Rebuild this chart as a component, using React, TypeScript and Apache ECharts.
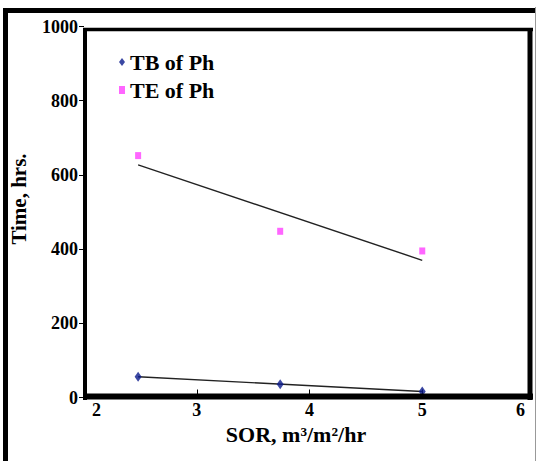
import React, { useEffect, useRef } from 'react';
import * as echarts from 'echarts';

// SOR values (m3/m2/hr) shared by both series
const sor = [2.48, 3.74, 5.0];
const tbOfPh = [56, 36, 16];
const teOfPh = [652, 448, 395];

const seriesNames = ['TB of Ph', 'TE of Ph'];
const xTickMarks = [3, 4, 5];

const FONT = '"Liberation Serif", "Times New Roman", serif';

// least squares line over the x range of the data (like an Excel trendline)
const trend = (xs: number[], ys: number[]) => {
  const n = xs.length;
  const mx = xs.reduce((a, b) => a + b, 0) / n;
  const my = ys.reduce((a, b) => a + b, 0) / n;
  let sxy = 0;
  let sxx = 0;
  xs.forEach((x, i) => {
    sxy += (x - mx) * (ys[i] - my);
    sxx += (x - mx) * (x - mx);
  });
  const slope = sxy / sxx;
  const x0 = Math.min(...xs);
  const x1 = Math.max(...xs);
  return [
    [x0, my + slope * (x0 - mx)],
    [x1, my + slope * (x1 - mx)],
  ];
};

const App = () => {
  const chartRef = useRef<HTMLDivElement>(null);

  useEffect(() => {
    const chart = echarts.init(chartRef.current, null, { renderer: 'svg' });

    const labelStyle = { fontFamily: FONT, fontWeight: 'bold', fontSize: 18, color: '#000' };

    const options = {
      animation: false,
      backgroundColor: '#fff',
      grid: { left: 83, right: 2, top: 26.5, bottom: 63.5 },
      legend: {
        data: [
          { name: seriesNames[0], icon: 'diamond' },
          { name: seriesNames[1], icon: 'rect' },
        ],
        orient: 'vertical',
        left: 119,
        top: 51,
        padding: 0,
        itemWidth: 6,
        itemHeight: 8,
        itemGap: 6,
        textStyle: { fontFamily: FONT, fontWeight: 'bold', fontSize: 22, color: '#000', lineHeight: 22 },
      },
      xAxis: {
        type: 'value',
        min: 2,
        max: 6,
        interval: 1,
        name: 'SOR, m³/m²/hr',
        nameLocation: 'middle',
        nameGap: 25,
        nameTextStyle: { ...labelStyle, fontSize: 22, padding: [0, 27, 0, 0] },
        axisLine: { show: false },
        axisTick: { show: true, inside: true, length: 8, customValues: xTickMarks, lineStyle: { color: '#000', width: 1 } },
        axisLabel: {
          ...labelStyle,
          margin: 3,
          alignMinLabel: 'left',
          alignMaxLabel: 'right',
          formatter: (v: number) => (v === 2 ? '{l|2}' : v === 6 ? '{r|6}' : String(v)),
          rich: {
            l: { ...labelStyle, padding: [0, 0, 0, 8] },
            r: { ...labelStyle, padding: [0, 10, 0, 0] },
          },
        },
        splitLine: { show: false },
      },
      yAxis: {
        type: 'value',
        min: 0,
        max: 1000,
        interval: 200,
        name: 'Time, hrs.',
        nameLocation: 'middle',
        nameGap: 55,
        nameTextStyle: { ...labelStyle, fontSize: 21, padding: [0, 0, 0, 26] },
        axisLine: { show: false },
        axisTick: { show: true, length: 5, lineStyle: { color: '#000', width: 1 } },
        axisLabel: { ...labelStyle, margin: 6, formatter: (v: number) => String(v) },
        splitLine: { show: false },
      },
      graphic: [
        // outer chart border
        { type: 'line', silent: true, shape: { x1: 3, y1: 10.5, x2: 536, y2: 10.5 }, style: { stroke: '#000', lineWidth: 5 } },
        { type: 'line', silent: true, shape: { x1: 5.5, y1: 8, x2: 5.5, y2: 461 }, style: { stroke: '#000', lineWidth: 5 } },
        { type: 'line', silent: true, shape: { x1: 535.5, y1: 7, x2: 535.5, y2: 461 }, style: { stroke: '#999', lineWidth: 1 } },
        // plot area border
        { type: 'line', silent: true, z: 10, shape: { x1: 83, y1: 29.5, x2: 533, y2: 29.5 }, style: { stroke: '#000', lineWidth: 3.5 } },
        { type: 'line', silent: true, z: 10, shape: { x1: 85, y1: 28, x2: 85, y2: 400 }, style: { stroke: '#000', lineWidth: 4 } },
        { type: 'line', silent: true, z: 10, shape: { x1: 83, y1: 396.5, x2: 533, y2: 396.5 }, style: { stroke: '#000', lineWidth: 6 } },
        { type: 'line', silent: true, z: 10, shape: { x1: 530, y1: 28, x2: 530, y2: 400 }, style: { stroke: '#000', lineWidth: 5 } },
      ],
      series: [
        {
          name: 'TB trend',
          type: 'line',
          data: trend(sor, tbOfPh),
          showSymbol: false,
          silent: true,
          lineStyle: { color: '#222', width: 1.4 },
          z: 1,
        },
        {
          name: 'TE trend',
          type: 'line',
          data: trend(sor, teOfPh),
          showSymbol: false,
          silent: true,
          lineStyle: { color: '#222', width: 1.4 },
          z: 1,
        },
        {
          name: seriesNames[0],
          type: 'scatter',
          symbol: 'diamond',
          symbolSize: [7, 10],
          itemStyle: { color: '#0a1a8c' },
          data: sor.map((x, i) => [x, tbOfPh[i]]),
          z: 3,
        },
        {
          name: seriesNames[1],
          type: 'scatter',
          symbol: 'rect',
          symbolSize: [6, 7],
          itemStyle: { color: '#ff40ff' },
          data: sor.map((x, i) => [x, teOfPh[i]]),
          z: 3,
        },
      ],
    };

    chart.setOption(options);

    return () => {
      chart.dispose();
    };
  }, []);

  return <div ref={chartRef} style={{ position: 'fixed', left: 0, top: 0, width: '537px', height: '461px' }}></div>;
};

export default App;
